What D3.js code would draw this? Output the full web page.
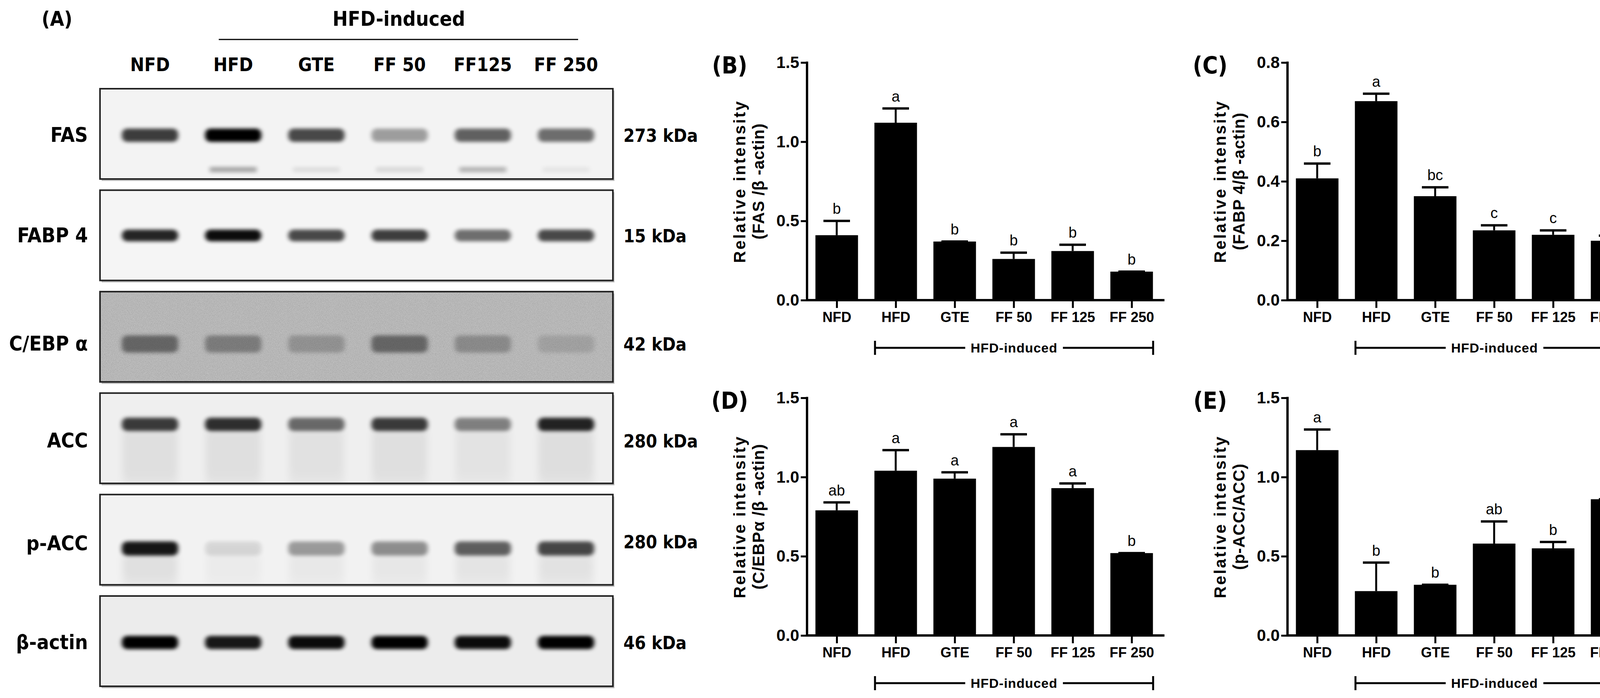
<!DOCTYPE html>
<html><head><meta charset="utf-8">
<script src="https://cdn.jsdelivr.net/npm/d3@7"></script>
<style>
html,body{margin:0;padding:0;background:#fff;overflow:hidden}
svg{display:block}
.cond{font-family:"DejaVu Sans Condensed","DejaVu Sans",sans-serif;font-stretch:condensed;font-weight:bold}
.ar{font-family:"Liberation Sans",Arial,sans-serif}
</style></head>
<body>
<svg id="fig" width="4226" height="1786" viewBox="0 0 4226 1786"></svg>
<script>
var groups = ["NFD", "HFD", "GTE", "FF 50", "FF 125", "FF 250"];
var laneLabels = ["NFD", "HFD", "GTE", "FF 50", "FF125", "FF 250"];

// panel B: FAS / beta-actin
var fasMean = [0.41, 1.12, 0.37, 0.26, 0.31, 0.18];
var fasErr  = [0.09, 0.09, 0.00, 0.04, 0.04, 0.00];
var fasSig  = ["b", "a", "b", "b", "b", "b"];
// panel C: FABP 4 / beta-actin
var fabpMean = [0.41, 0.67, 0.35, 0.235, 0.22, 0.20];
var fabpErr  = [0.05, 0.025, 0.03, 0.017, 0.015, 0.017];
var fabpSig  = ["b", "a", "bc", "c", "c", "c"];
// panel D: C/EBPa / beta-actin
var cebpMean = [0.79, 1.04, 0.99, 1.19, 0.93, 0.52];
var cebpErr  = [0.05, 0.13, 0.04, 0.08, 0.03, 0.00];
var cebpSig  = ["ab", "a", "a", "a", "a", "b"];
// panel E: p-ACC / ACC
var paccMean = [1.17, 0.28, 0.32, 0.58, 0.55, 0.86];
var paccErr  = [0.13, 0.18, 0.00, 0.14, 0.04, 0.00];
var paccSig  = ["a", "b", "b", "ab", "b", "ab"];

// western blot rows: estimated band darkness per lane (0..1)
var blotNames = ["FAS", "FABP 4", "C/EBP α", "ACC", "p-ACC", "β-actin"];
var blotKda   = ["273 kDa", "15 kDa", "42 kDa", "280 kDa", "280 kDa", "46 kDa"];
var fasBand   = [0.75, 1.0, 0.7, 0.35, 0.6, 0.55];
var fasLower  = [0.0, 0.3, 0.08, 0.1, 0.25, 0.05];
var fabpBand  = [0.85, 0.95, 0.7, 0.75, 0.55, 0.7];
var cebpBand  = [0.55, 0.4, 0.25, 0.55, 0.3, 0.15];
var accBand   = [0.75, 0.8, 0.55, 0.75, 0.45, 0.85];
var paccBand  = [0.9, 0.1, 0.35, 0.4, 0.6, 0.7];
var actinBand = [1.0, 0.9, 0.95, 1.0, 0.95, 1.0];

var svg = d3.select("#fig");
var defs = svg.append("defs");
defs.append("filter").attr("id", "blur").attr("x", "-30%").attr("y", "-100%").attr("width", "160%").attr("height", "300%")
  .append("feGaussianBlur").attr("stdDeviation", "6 5");
defs.append("filter").attr("id", "smear").attr("x", "-30%").attr("y", "-50%").attr("width", "160%").attr("height", "200%")
  .append("feGaussianBlur").attr("stdDeviation", "10 20");
var noise = defs.append("filter").attr("id", "noise");
noise.append("feTurbulence").attr("type", "fractalNoise").attr("baseFrequency", 0.9).attr("numOctaves", 2).attr("seed", 3);
noise.append("feColorMatrix").attr("type", "matrix")
  .attr("values", "0 0 0 0 0.62  0 0 0 0 0.62  0 0 0 0 0.62  0 0 0 -1.6 1.3");

// ---------- panel A ----------
var lane = d3.scalePoint().domain(d3.range(6)).range([384, 1449]);
var rowTop = d3.scalePoint().domain(d3.range(6)).range([227, 1525]);
var rowH = 231, boxL = 256, boxR = 1569;

svg.append("text").attr("class", "cond").attr("x", 146).attr("y", 66).attr("text-anchor", "middle")
  .attr("font-size", 52).attr("font-weight", "normal").text("(A)");
svg.append("text").attr("class", "cond").attr("x", 1021).attr("y", 66).attr("text-anchor", "middle")
  .attr("font-size", 52).text("HFD-induced");
svg.append("line").attr("x1", 560).attr("x2", 1480).attr("y1", 101).attr("y2", 101).attr("stroke", "#000").attr("stroke-width", 3);
svg.selectAll(".lane").data(laneLabels).join("text").attr("class", "cond")
  .attr("x", (d, i) => lane(i)).attr("y", 182).attr("text-anchor", "middle").attr("font-size", 48).text(d => d);

var rows = [
  {band: fasBand, dy: 119, h: 34, bg: "#f3f3f3"},
  {band: fabpBand, dy: 116, h: 30, bg: "#f5f5f5"},
  {band: cebpBand, dy: 134, h: 44, bg: "#9e9e9e"},
  {band: accBand, dy: 80, h: 34, bg: "#efefef", smear: true},
  {band: paccBand, dy: 138, h: 36, bg: "#f2f2f2", smear: true},
  {band: actinBand, dy: 119, h: 34, bg: "#ececec"}
];

rows.forEach(function(r, k) {
  var top = rowTop(k);
  var g = svg.append("g");
  g.append("rect").attr("x", boxL + 4).attr("y", top + 5).attr("width", boxR - boxL).attr("height", rowH).attr("fill", "#bbb");
  g.append("rect").attr("x", boxL).attr("y", top).attr("width", boxR - boxL).attr("height", rowH).attr("fill", r.bg);
  var clipId = "clip" + k;
  defs.append("clipPath").attr("id", clipId).append("rect")
    .attr("x", boxL).attr("y", top).attr("width", boxR - boxL).attr("height", rowH);
  var inner = g.append("g").attr("clip-path", `url(#${clipId})`);
  if (k === 2) inner.append("rect").attr("x", boxL).attr("y", top).attr("width", boxR - boxL).attr("height", rowH).attr("filter", "url(#noise)");
  if (r.smear) {
    inner.selectAll(".sm").data(r.band).join("rect")
      .attr("x", (d, i) => lane(i) - 70).attr("y", top + r.dy).attr("width", 140).attr("height", rowH - r.dy)
      .attr("fill", "#000").attr("opacity", d => 0.06 * d + 0.02).attr("filter", "url(#smear)");
  }
  var col = k === 2 ? "#222" : "#000";
  inner.selectAll(".band").data(r.band).join("rect")
    .attr("x", (d, i) => lane(i) - 72).attr("y", top + r.dy - r.h / 2)
    .attr("width", 144).attr("height", r.h).attr("rx", 14)
    .attr("fill", col).attr("opacity", d => d).attr("filter", "url(#blur)");
  if (k === 0) {
    inner.selectAll(".low").data(fasLower).join("rect")
      .attr("x", (d, i) => lane(i) - 60).attr("y", top + 200).attr("width", 120).attr("height", 14)
      .attr("fill", "#000").attr("opacity", d => d).attr("filter", "url(#blur)");
  }
  g.append("rect").attr("x", boxL).attr("y", top).attr("width", boxR - boxL).attr("height", rowH)
    .attr("fill", "none").attr("stroke", "#222").attr("stroke-width", 4);
  var ly = top + (k === 3 ? 122 : k === 4 ? 126 : r.dy) + 17;
  g.append("text").attr("class", "cond").attr("x", 225).attr("y", ly).attr("text-anchor", "end")
    .attr("font-size", 52).text(blotNames[k]);
  g.append("text").attr("class", "cond").attr("x", 1596).attr("y", k === 4 ? top + 138 : ly)
    .attr("font-size", 46).text(blotKda[k]);
});

// ---------- bar panels ----------
function panel(o) {
  var g = svg.append("g");
  var x = d3.scalePoint().domain(groups).range([o.ax + 76, o.ax + 831]);
  var y = d3.scaleLinear().domain([0, o.max]).range([o.y0, o.y0 - 608]);
  var bw = 109;
  var data = groups.map((k, i) => ({k: k, m: o.mean[i], e: o.err[i], s: o.sig[i]}));

  g.selectAll(".bar").data(data).join("rect")
    .attr("x", d => x(d.k) - bw / 2).attr("y", d => y(d.m))
    .attr("width", bw).attr("height", d => y(0) - y(d.m)).attr("fill", "#000");
  g.selectAll(".ev").data(data).join("line")
    .attr("x1", d => x(d.k)).attr("x2", d => x(d.k))
    .attr("y1", d => y(d.m)).attr("y2", d => y(d.m + d.e)).attr("stroke", "#000").attr("stroke-width", 5);
  g.selectAll(".cap").data(data).join("line")
    .attr("x1", d => x(d.k) - 34).attr("x2", d => x(d.k) + 34)
    .attr("y1", d => y(d.m + d.e)).attr("y2", d => y(d.m + d.e)).attr("stroke", "#000").attr("stroke-width", 6);
  g.selectAll(".sig").data(data).join("text").attr("class", "ar")
    .attr("x", d => x(d.k)).attr("y", d => y(d.m + d.e) - 18).attr("text-anchor", "middle")
    .attr("font-size", 38).text(d => d.s);

  var yAxis = g.append("g").attr("transform", `translate(${o.ax},0)`)
    .call(d3.axisLeft(y).tickValues(o.ticks).tickFormat(d3.format(".1f")).tickSize(16).tickPadding(4));
  var xAxis = g.append("g").attr("transform", `translate(0,${o.y0})`)
    .call(d3.axisBottom(x).tickSize(20).tickPadding(10));
  [yAxis, xAxis].forEach(a => {
    a.select(".domain").remove();
    a.selectAll("line").attr("stroke", "#000").attr("stroke-width", 5);
    a.selectAll("text").attr("class", "ar").attr("font-weight", "bold").attr("fill", "#000");
  });
  yAxis.selectAll("text").attr("font-size", 42);
  xAxis.selectAll("text").attr("font-size", 36);
  g.append("line").attr("x1", o.ax).attr("x2", o.ax).attr("y1", o.y0).attr("y2", y(o.max) - 2.5)
    .attr("stroke", "#000").attr("stroke-width", 6);
  g.append("line").attr("x1", o.ax - 3).attr("x2", o.ax + 915).attr("y1", o.y0).attr("y2", o.y0)
    .attr("stroke", "#000").attr("stroke-width", 6);

  // y title
  var ty = o.y0 - 304;
  g.append("text").attr("class", "ar").attr("font-weight", "bold").attr("font-size", 42).attr("letter-spacing", 4)
    .attr("text-anchor", "middle").attr("transform", `translate(${o.ax - 158},${ty}) rotate(-90)`).text("Relative intensity");
  g.append("text").attr("class", "ar").attr("font-weight", "bold").attr("font-size", 42).attr("letter-spacing", 1)
    .attr("text-anchor", "middle").attr("transform", `translate(${o.ax - 110},${ty}) rotate(-90)`).text(o.ylab);

  // panel letter
  g.append("text").attr("class", "cond").attr("x", o.ax - 198).attr("y", o.y0 - 580)
    .attr("text-anchor", "middle").attr("font-size", 60).text(o.label);

  // HFD-induced bracket
  var bx1 = x("HFD") - 53, bx2 = x("FF 250") + 55, by = o.y0 + 122;
  var mid = (bx1 + bx2) / 2;
  g.append("line").attr("x1", bx1).attr("x2", mid - 125).attr("y1", by).attr("y2", by).attr("stroke", "#000").attr("stroke-width", 5);
  g.append("line").attr("x1", mid + 125).attr("x2", bx2).attr("y1", by).attr("y2", by).attr("stroke", "#000").attr("stroke-width", 5);
  [bx1, bx2].forEach(v => g.append("line").attr("x1", v).attr("x2", v).attr("y1", by - 18).attr("y2", by + 18)
    .attr("stroke", "#000").attr("stroke-width", 5));
  g.append("text").attr("class", "ar").attr("font-weight", "bold").attr("font-size", 34).attr("letter-spacing", 1)
    .attr("x", mid).attr("y", by + 12).attr("text-anchor", "middle").text("HFD-induced");
}

panel({ax: 2066, y0: 768, max: 1.5, ticks: [0, 0.5, 1.0, 1.5], mean: fasMean, err: fasErr, sig: fasSig, ylab: "(FAS /β  -actin)", label: "(B)"});
panel({ax: 3296, y0: 768, max: 0.8, ticks: [0, 0.2, 0.4, 0.6, 0.8], mean: fabpMean, err: fabpErr, sig: fabpSig, ylab: "(FABP 4/β  -actin)", label: "(C)"});
panel({ax: 2066, y0: 1626, max: 1.5, ticks: [0, 0.5, 1.0, 1.5], mean: cebpMean, err: cebpErr, sig: cebpSig, ylab: "(C/EBPα /β  -actin)", label: "(D)"});
panel({ax: 3296, y0: 1626, max: 1.5, ticks: [0, 0.5, 1.0, 1.5], mean: paccMean, err: paccErr, sig: paccSig, ylab: "(p-ACC/ACC)", label: "(E)"});
</script>
</body></html>
